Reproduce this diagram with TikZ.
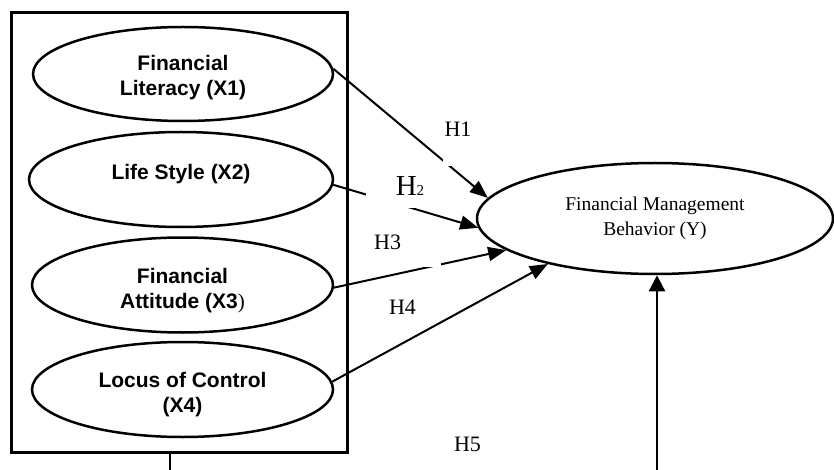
\documentclass[tikz,border=0pt]{standalone}
\usepackage{fontspec}
\setmainfont{Liberation Serif}
\newfontfamily\arialfont{Liberation Sans}
\usetikzlibrary{shapes.geometric,arrows.meta}
\begin{document}
\begin{tikzpicture}[x=1pt,y=-1pt,
  varell/.style={ellipse, draw, line width=2.5pt, minimum width=301pt, minimum height=95pt,
    inner sep=0pt, align=center, font=\arialfont\bfseries\fontsize{21}{25}\selectfont},
  depell/.style={ellipse, draw, line width=2.5pt, minimum width=356pt, minimum height=111pt,
    inner sep=0pt, align=center, font=\fontsize{19.5}{25}\selectfont},
  framebox/.style={rectangle, draw, line width=3pt, minimum width=336pt, minimum height=439pt, inner sep=0pt},
  hyp/.style={line width=2pt, -{Triangle[length=18pt,width=14pt]}},
  plain/.style={line width=2.5pt},
  hlab/.style={font=\fontsize{22}{22}\selectfont, inner sep=0pt},
  mask/.style={fill=white, inner ysep=0pt}
]
\useasboundingbox (0,0) rectangle (834,470);

% outer frame
\node[framebox] (frame) at (179,232.5) {};

% independent variables
\node[varell, minimum width=300pt, minimum height=94pt, text height=48pt, text depth=4.4pt] (E1) at (183,74) {Financial\\Literacy (X1)};
\node[varell, minimum width=304pt, text height=15pt, text depth=15pt] (E2) at (181,179.5) {Life Style (X2)};
\node[varell, text height=52pt, text depth=4.4pt] (E3) at (182.5,285) {Financial\\Attitude (X3{\mdseries\normalfont\fontsize{21}{25}\selectfont)}};
\node[varell, text height=50pt, text depth=4.4pt] (E4) at (182.5,389.5) {Locus of Control\\(X4)};

% dependent variable
\node[depell] (Y) at (655,218.5) {Financial Management\\Behavior (Y)};

% bottom connectors (cut off by the page edge)
\coordinate (b1) at (170,470);
\coordinate (b2) at (657,470);
\draw[plain] (frame.south -| b1) -- (b1);
\draw[hyp, line width=2.4pt, -{Triangle[length=16pt,width=16pt]}] (b2) -- (b2 |- Y.south);

% hypothesis arrows
\draw[hyp] (E1.2) -- (Y.173);
\draw[hyp] (E2.-2) -- (Y.183);
\draw[hyp] (E3.-1) -- (Y.192.7);
\draw[hyp] (E4.3) -- (Y.203.5);

% labels (white text boxes that interrupt the lines, as in the source)
\node[hlab, mask, anchor=base, inner xsep=1.5pt, text depth=29pt] (h1) at (458,137) {H1};
\node[hlab, mask, anchor=base, inner xsep=30pt, text depth=12pt] (h2) at (410,196)
  {{\fontsize{29}{29}\selectfont H}{\fontsize{15}{15}\selectfont 2}};
\node[hlab, mask, anchor=base west, inner xsep=3pt, text width=64pt, align=left, text depth=17.5pt] (h3) at (371,249) {H3};
\node[hlab] (h4) at (402.5,307.5) {H4};
\node[hlab] (h5) at (467.5,444.5) {H5};
\end{tikzpicture}
\end{document}
